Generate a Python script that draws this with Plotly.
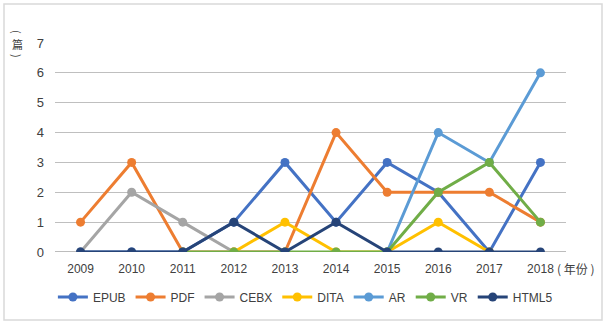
import plotly.graph_objects as go

years = ["2009", "2010", "2011", "2012", "2013", "2014", "2015", "2016", "2017", "2018"]
epub = [0, 0, 0, 1, 3, 1, 3, 2, 0, 3]
pdf = [1, 3, 0, 0, 0, 4, 2, 2, 2, 1]
cebx = [0, 2, 1, 0, None, None, None, None, None, None]
dita = [None, None, None, 0, 1, 0, 0, 1, 0, None]
ar = [None, None, None, None, None, None, 0, 4, 3, 6]
vr = [None, None, 0, 0, 0, 0, 0, 2, 3, 1]
html5 = [0, 0, 0, 1, 0, 1, 0, 0, 0, 0]

series = [
    ("EPUB", epub, "#4472C4"),
    ("PDF", pdf, "#ED7D31"),
    ("CEBX", cebx, "#A5A5A5"),
    ("DITA", dita, "#FFC000"),
    ("AR", ar, "#5B9BD5"),
    ("VR", vr, "#70AD47"),
    ("HTML5", html5, "#264478"),
]

font_family = "Liberation Sans, Noto Sans CJK SC, sans-serif"

fig = go.Figure()
for name, vals, color in series:
    fig.add_trace(go.Scatter(
        x=years, y=vals, name=name, mode="lines+markers",
        line=dict(color=color, width=3),
        marker=dict(color=color, size=9),
        connectgaps=False,
    ))

L, R, T, B = 55, 43, 43, 74
W, H = 609, 326
pw, ph = W - L - R, H - T - B

def px2paper_x(px):
    return (px - L) / pw

def px2paper_y(py):
    return (H - B - py) / ph

fig.update_layout(
    width=W, height=H,
    margin=dict(l=L, r=R, t=T, b=B),
    paper_bgcolor="white", plot_bgcolor="white",
    font=dict(family=font_family, size=12, color="#404040"),
    showlegend=True,
    legend=dict(orientation="h", x=0.49, xanchor="center",
                y=px2paper_y(297), yanchor="middle",
                font=dict(size=12, color="#404040"),
                itemwidth=30, tracegroupgap=0),
    xaxis=dict(type="category", range=[-0.5, 9.5], showgrid=False,
               showline=False, ticks="", zeroline=False,
               ticklabelstandoff=8,
               tickfont=dict(size=12, color="#404040")),
    yaxis=dict(range=[0, 7], dtick=1, showgrid=True, gridcolor="#BFBFBF",
               gridwidth=1.3, zeroline=False, showline=False,
               ticks="", ticklabelstandoff=10,
               tickfont=dict(size=13, color="#404040")),
)

# axis baseline
fig.add_shape(type="line", xref="paper", yref="y", x0=0, x1=1, y0=0, y1=0,
              line=dict(color="#A6A6A6", width=1.5), layer="below")

# outer border
fig.add_shape(type="rect", xref="paper", yref="paper",
              x0=px2paper_x(4), x1=px2paper_x(602),
              y0=px2paper_y(320), y1=px2paper_y(4),
              line=dict(color="#D9D9D9", width=1.5))

for txt, py, ang in [("(", 32, 90), ("篇", 44, 0), (")", 56, 90)]:
    fig.add_annotation(xref="paper", yref="paper", x=px2paper_x(17), y=px2paper_y(py),
                       text=txt, showarrow=False, textangle=ang,
                       font=dict(size=11, color="#404040", family="Noto Sans CJK SC"),
                       xanchor="center", yanchor="middle")
fig.add_annotation(xref="paper", yref="paper", x=px2paper_x(555), y=px2paper_y(268),
                   text="( 年份 )", showarrow=False,
                   font=dict(size=12, color="#404040", family="Noto Sans CJK SC"),
                   xanchor="left", yanchor="middle")

fig.write_html("out.html")
